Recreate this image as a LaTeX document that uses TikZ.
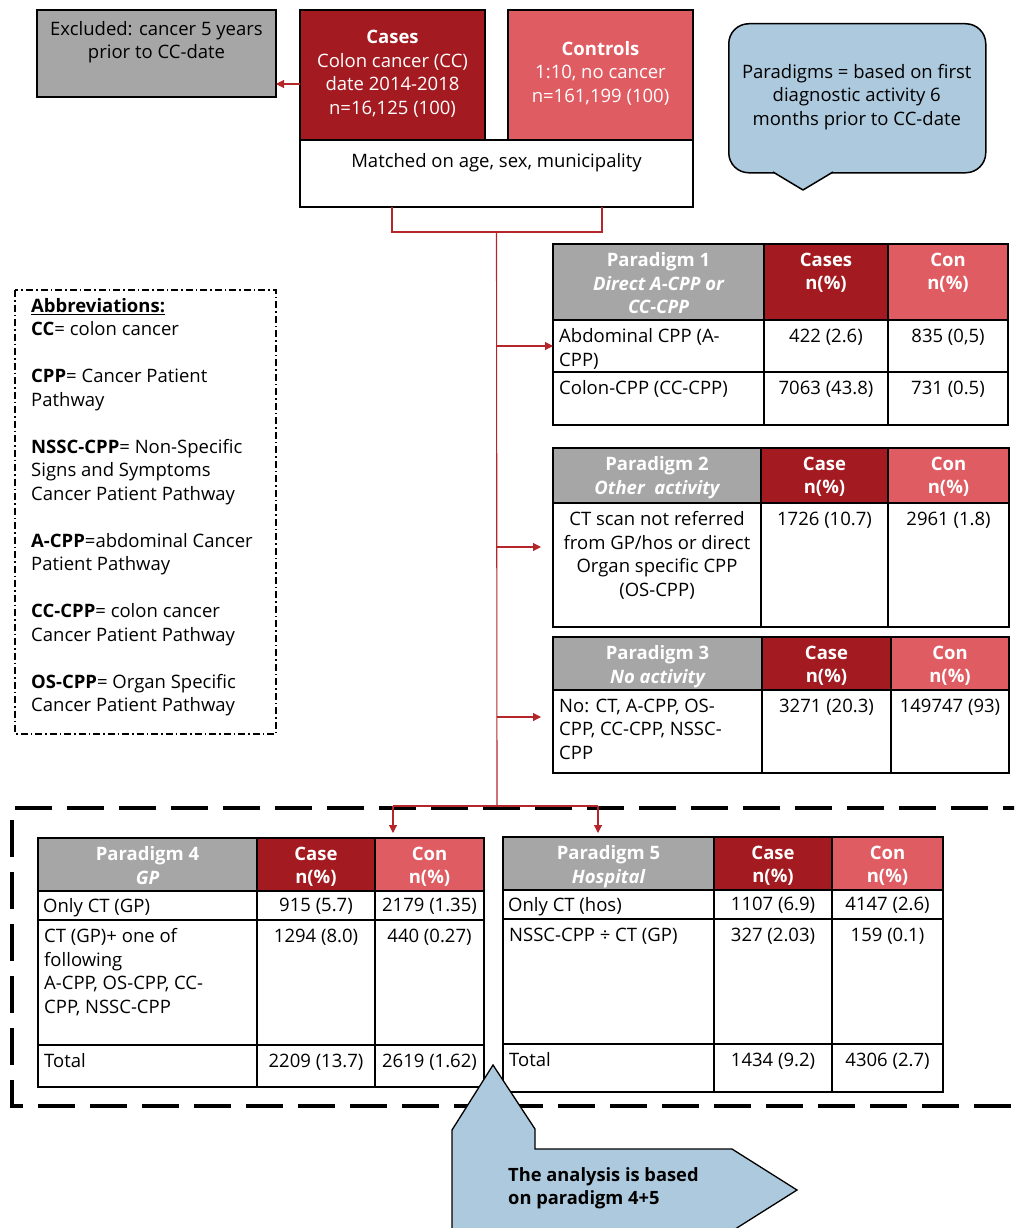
\documentclass[tikz,border=0pt]{standalone}
\usepackage{fontspec}
\setmainfont{Open Sans}
\usetikzlibrary{arrows.meta}
\definecolor{dred}{HTML}{A31A20}
\definecolor{lred}{HTML}{E05C63}
\definecolor{hgray}{HTML}{A6A6A6}
\definecolor{lblue}{HTML}{ADC9DD}
\definecolor{lnred}{HTML}{B5262B}
\newcommand\tcell[6]{\node[cell,#6,minimum width={(#4-#2)*1pt},minimum height={(#5-#3)*1pt},anchor=north west] (#1) at (#2,#3) {};}
\newcommand\ctext[4]{\node[#1,anchor=north] (#2) at ([yshift=-8.5pt]#3.north) {#4};}
\newcommand\ltext[4]{\node[#1,anchor=north west,align=left] (#2) at ([xshift=6pt,yshift=-8.5pt]#3.north west) {#4};}
\tikzset{
  cell/.style={draw=black,line width=1.3pt,inner sep=0pt,outer sep=0pt},
  txt/.style={inner sep=0pt,font=\fontsize{18.5}{23.5}\selectfont,align=center},
  htxt/.style={inner sep=0pt,text=white,font=\fontsize{18.5}{23.5}\selectfont\bfseries,align=center},
  conn/.style={draw=lnred,line width=1.1pt},
  arr/.style={conn,-{Triangle[length=8pt,width=8pt]}},
}
\begin{document}
\begin{tikzpicture}[x=1pt,y=-1pt]
\useasboundingbox (0,0) rectangle (1014,1228);
\clip (0,0) rectangle (1014,1228);
% dashed frame
\draw[line width=4pt,dash pattern=on 37pt off 15pt] (1040,808) -- (12,808) -- (12,1106) -- (1040,1106);
% top boxes
\tcell{exc}{37}{10}{276}{97}{fill=hgray}
\tcell{cas}{300}{10}{485}{140}{fill=dred}
\tcell{con}{508}{10}{693}{140}{fill=lred}
\tcell{mat}{300}{140}{693}{207}{fill=white}
\node[txt,anchor=north] (exct) at ([yshift=-11pt]exc.north) {Excluded: cancer 5 years\\prior to CC-date};
\node[txt,text=white,anchor=north] (cast) at ([yshift=-20pt]cas.north) {\textbf{Cases}\\Colon cancer (CC)\\date 2014-2018\\n=16,125 (100)};
\node[txt,text=white,anchor=north] (cont) at ([yshift=-31pt]con.north) {\textbf{Controls}\\1:10, no cancer\\n=161,199 (100)};
\node[txt,anchor=north] (matt) at ([yshift=-13pt]mat.north) {Matched on age, sex, municipality};
% bubble
\node[draw=black,line width=1.5pt,fill=lblue,rounded corners=20pt,minimum width=257pt,minimum height=149pt,anchor=north west,inner sep=0pt] (bub) at (728,23) {};
\fill[lblue] (771,170) -- (835,170) -- (803,190) -- cycle;
\draw[line width=1.5pt,line join=round] (773,172) -- (803,190) -- (833,172);
\node[txt,anchor=north] (bubt) at ([xshift=-0.5pt,yshift=-41pt]bub.north) {Paradigms = based on first\\diagnostic activity 6\\months prior to CC-date};
% abbreviations
\draw[line width=1.4pt,dash pattern=on 7pt off 3pt on 1.5pt off 3pt] (15,290) rectangle (276,734);
\node[txt,align=left,anchor=north west] (abb) at (31,298) {\textbf{\underline{Abbreviations:}}\\
\textbf{CC}= colon cancer\\[23.5pt]
\textbf{CPP}= Cancer Patient\\Pathway\\[23.5pt]
\textbf{NSSC-CPP}= Non-Specific\\Signs and Symptoms\\Cancer Patient Pathway\\[23.5pt]
\textbf{A-CPP}=abdominal Cancer\\Patient Pathway\\[23.5pt]
\textbf{CC-CPP}= colon cancer\\Cancer Patient Pathway\\[23.5pt]
\textbf{OS-CPP}= Organ Specific\\Cancer Patient Pathway};
% Paradigm 1
\tcell{pA}{553}{244}{764}{320}{fill=hgray}
\tcell{pAc}{764}{244}{888}{320}{fill=dred}
\tcell{pAn}{888}{244}{1008}{320}{fill=lred}
\tcell{pA1}{553}{320}{764}{372}{fill=white}
\tcell{pA1c}{764}{320}{888}{372}{fill=white}
\tcell{pA1n}{888}{320}{1008}{372}{fill=white}
\tcell{pA2}{553}{372}{764}{425}{fill=white}
\tcell{pA2c}{764}{372}{888}{425}{fill=white}
\tcell{pA2n}{888}{372}{1008}{425}{fill=white}
\ctext{htxt}{pAt}{pA}{Paradigm 1\\{\itshape Direct A-CPP or}\\{\itshape CC-CPP}}
\ctext{htxt}{pAct}{pAc}{Cases\\n(\%)}
\ctext{htxt}{pAnt}{pAn}{Con\\n(\%)}
\ltext{txt}{pA1t}{pA1}{Abdominal CPP (A-\\CPP)}
\ctext{txt}{pA1ct}{pA1c}{422 (2.6)}
\ctext{txt}{pA1nt}{pA1n}{835 (0,5)}
\ltext{txt}{pA2t}{pA2}{Colon-CPP (CC-CPP)}
\ctext{txt}{pA2ct}{pA2c}{7063 (43.8)}
\ctext{txt}{pA2nt}{pA2n}{731 (0.5)}
% Paradigm 2
\tcell{pB}{553}{448}{761}{503}{fill=hgray}
\tcell{pBc}{761}{448}{888}{503}{fill=dred}
\tcell{pBn}{888}{448}{1009}{503}{fill=lred}
\tcell{pB1}{553}{503}{761}{627}{fill=white}
\tcell{pB1c}{761}{503}{888}{627}{fill=white}
\tcell{pB1n}{888}{503}{1009}{627}{fill=white}
\ctext{htxt}{pBt}{pB}{Paradigm 2\\{\itshape Other~ activity}}
\ctext{htxt}{pBct}{pBc}{Case\\n(\%)}
\ctext{htxt}{pBnt}{pBn}{Con\\n(\%)}
\ctext{txt}{pB1t}{pB1}{CT scan not referred\\from GP/hos or direct\\Organ specific CPP\\(OS-CPP)}
\ctext{txt}{pB1ct}{pB1c}{1726 (10.7)}
\ctext{txt}{pB1nt}{pB1n}{2961 (1.8)}
% Paradigm 3
\tcell{pC}{553}{637}{762}{690}{fill=hgray}
\tcell{pCc}{762}{637}{891}{690}{fill=dred}
\tcell{pCn}{891}{637}{1009}{690}{fill=lred}
\tcell{pC1}{553}{690}{762}{773}{fill=white}
\tcell{pC1c}{762}{690}{891}{773}{fill=white}
\tcell{pC1n}{891}{690}{1009}{773}{fill=white}
\ctext{htxt}{pCt}{pC}{Paradigm 3\\{\itshape No activity}}
\ctext{htxt}{pCct}{pCc}{Case\\n(\%)}
\ctext{htxt}{pCnt}{pCn}{Con\\n(\%)}
\ltext{txt}{pC1t}{pC1}{No: CT, A-CPP, OS-\\CPP, CC-CPP, NSSC-\\CPP}
\ctext{txt}{pC1ct}{pC1c}{3271 (20.3)}
\ctext{txt}{pC1nt}{pC1n}{149747 (93)}
% Paradigm 4
\tcell{pD}{38}{838}{257}{891}{fill=hgray}
\tcell{pDc}{257}{838}{375}{891}{fill=dred}
\tcell{pDn}{375}{838}{484}{891}{fill=lred}
\tcell{pD1}{38}{891}{257}{920}{fill=white}
\tcell{pD1c}{257}{891}{375}{920}{fill=white}
\tcell{pD1n}{375}{891}{484}{920}{fill=white}
\tcell{pD2}{38}{920}{257}{1045}{fill=white}
\tcell{pD2c}{257}{920}{375}{1045}{fill=white}
\tcell{pD2n}{375}{920}{484}{1045}{fill=white}
\tcell{pD3}{38}{1045}{257}{1087}{fill=white}
\tcell{pD3c}{257}{1045}{375}{1087}{fill=white}
\tcell{pD3n}{375}{1045}{484}{1087}{fill=white}
\ctext{htxt}{pDt}{pD}{Paradigm 4\\{\itshape GP}}
\ctext{htxt}{pDct}{pDc}{Case\\n(\%)}
\ctext{htxt}{pDnt}{pDn}{Con\\n(\%)}
\node[txt,anchor=north west,align=left] (pD1t) at ([xshift=5pt,yshift=-7pt]pD1.north west) {Only CT (GP)};
\node[txt,anchor=north] (pD1ct) at ([yshift=-7pt]pD1c.north) {915 (5.7)};
\node[txt,anchor=north] (pD1nt) at ([yshift=-7pt]pD1n.north) {2179 (1.35)};
\ltext{txt}{pD2t}{pD2}{CT (GP)+ one of\\following\\A-CPP, OS-CPP, CC-\\CPP, NSSC-CPP}
\ctext{txt}{pD2ct}{pD2c}{1294 (8.0)}
\ctext{txt}{pD2nt}{pD2n}{440 (0.27)}
\ltext{txt}{pD3t}{pD3}{Total}
\ctext{txt}{pD3ct}{pD3c}{2209 (13.7)}
\ctext{txt}{pD3nt}{pD3n}{2619 (1.62)}
% Paradigm 5
\tcell{pE}{503}{837}{714}{890}{fill=hgray}
\tcell{pEc}{714}{837}{832}{890}{fill=dred}
\tcell{pEn}{832}{837}{943}{890}{fill=lred}
\tcell{pE1}{503}{890}{714}{919}{fill=white}
\tcell{pE1c}{714}{890}{832}{919}{fill=white}
\tcell{pE1n}{832}{890}{943}{919}{fill=white}
\tcell{pE2}{503}{919}{714}{1044}{fill=white}
\tcell{pE2c}{714}{919}{832}{1044}{fill=white}
\tcell{pE2n}{832}{919}{943}{1044}{fill=white}
\tcell{pE3}{503}{1044}{714}{1092}{fill=white}
\tcell{pE3c}{714}{1044}{832}{1092}{fill=white}
\tcell{pE3n}{832}{1044}{943}{1092}{fill=white}
\ctext{htxt}{pEt}{pE}{Paradigm 5\\{\itshape Hospital}}
\ctext{htxt}{pEct}{pEc}{Case\\n(\%)}
\ctext{htxt}{pEnt}{pEn}{Con\\n(\%)}
\node[txt,anchor=north west,align=left] (pE1t) at ([xshift=5pt,yshift=-7pt]pE1.north west) {Only CT (hos)};
\node[txt,anchor=north] (pE1ct) at ([yshift=-7pt]pE1c.north) {1107 (6.9)};
\node[txt,anchor=north] (pE1nt) at ([yshift=-7pt]pE1n.north) {4147 (2.6)};
\ltext{txt}{pE2t}{pE2}{NSSC-CPP ÷ CT (GP)}
\ctext{txt}{pE2ct}{pE2c}{327 (2.03)}
\ctext{txt}{pE2nt}{pE2n}{159 (0.1)}
\ltext{txt}{pE3t}{pE3}{Total}
\ctext{txt}{pE3ct}{pE3c}{1434 (9.2)}
\ctext{txt}{pE3nt}{pE3n}{4306 (2.7)}
% connectors
\draw[arr] ([yshift=-9pt]cas.west) -- ([yshift=-9pt]cas.west -| exc.east);
\coordinate (tr) at ([yshift=-25pt]mat.south);
\coordinate (bl) at (497,806);
\coordinate (a2) at (541,547);
\coordinate (a3) at (541,717);
\coordinate (d4) at (393,833);
\coordinate (d5) at (598,833);
\draw[conn] ([xshift=-104.5pt]mat.south) -- ++(0,25) -| ([xshift=105.5pt]mat.south);
\draw[conn] (tr) -- (bl);
\draw[arr] (pA1.west -| tr) -- (pA1.west);
\draw[arr] (a2 -| tr) -- (a2);
\draw[arr] (a3 -| tr) -- (a3);
\draw[conn] (d4 |- bl) -- (d5 |- bl);
\draw[arr] (d4 |- bl) -- (d4);
\draw[arr] (d5 |- bl) -- (d5);
% callout
\draw[line width=1.3pt,fill=lblue,line join=miter] (493,1065) -- (535,1129) -- (535,1149) -- (732,1149) -- (797,1190) -- (732,1231) -- (732,1240) -- (452,1240) -- (452,1130) -- cycle;
\node[txt,align=left,anchor=north west,font=\fontsize{18.3}{23.5}\selectfont\bfseries] (cal) at (508,1167) {The analysis is based\\on paradigm 4+5};
\end{tikzpicture}
\end{document}
